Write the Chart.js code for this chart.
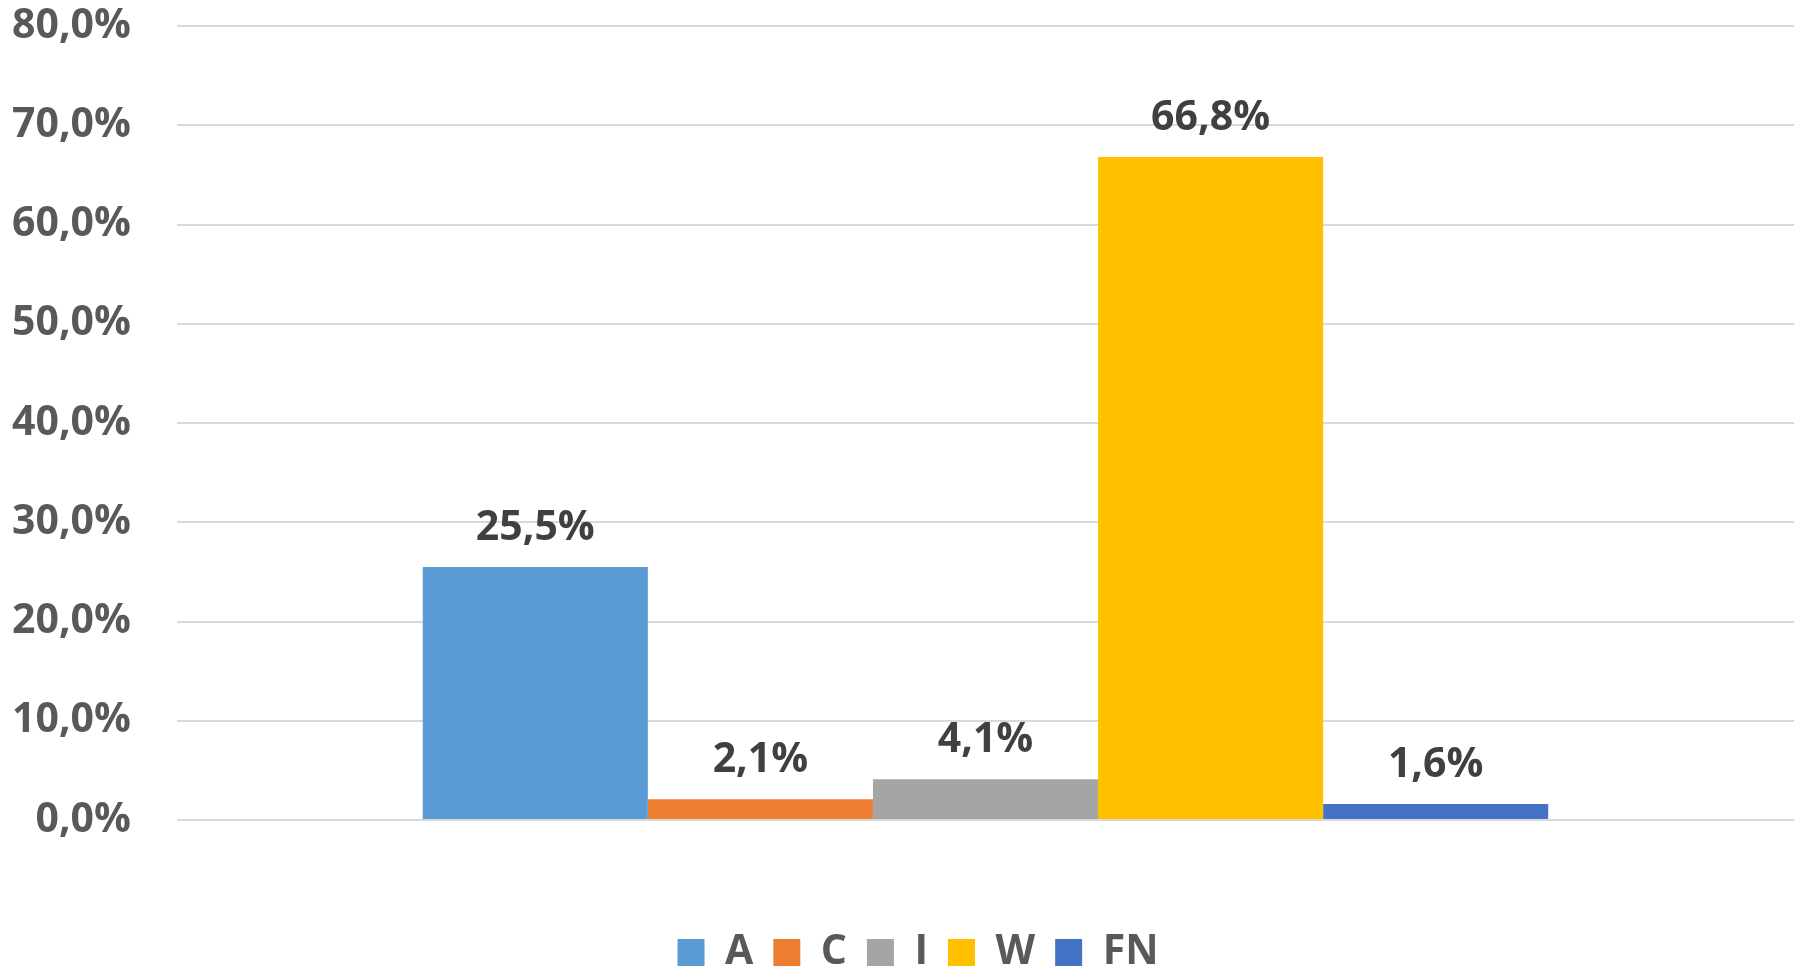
<!DOCTYPE html>
<html>
<head>
<meta charset="utf-8">
<script src="https://cdn.jsdelivr.net/npm/chart.js@4/dist/chart.umd.min.js"></script>
<style>
  html, body { margin: 0; padding: 0; background: #fff; }
  #wrap { width: 1800px; height: 970px; }
</style>
</head>
<body>
<div id="wrap"><canvas id="chart"></canvas></div>
<script>
// series shown as one group of bars
const seriesNames = ['A', 'C', 'I', 'W', 'FN'];
const seriesValues = [25.5, 2.1, 4.1, 66.8, 1.6];
const seriesColors = ['#5B9BD5', '#ED7D31', '#A5A5A5', '#FFC000', '#4472C4'];
const yTicks = [0, 10, 20, 30, 40, 50, 60, 70, 80];

const fmt = v => v.toFixed(1).replace('.', ',') + '%';
const FONT = '"Open Sans"';

// value labels above each bar
const valueLabels = {
    id: 'valueLabels',
    afterDatasetsDraw(chart) {
        const ctx = chart.ctx;
        ctx.save();
        ctx.font = 'bold 41px ' + FONT;
        ctx.fillStyle = '#404040';
        ctx.textAlign = 'center';
        ctx.textBaseline = 'middle';
        chart.data.datasets.forEach((ds, i) => {
            const bar = chart.getDatasetMeta(i).data[0];
            ctx.fillText(fmt(ds.data[0]), bar.x, bar.y - 39);
        });
        ctx.restore();
    }
};

// nudge the legend a bit to the right of the canvas centre
const legendShift = {
    id: 'legendShift',
    afterLayout(chart) {
        if (chart.legend) {
            chart.legend.left += 21;
            chart.legend.right += 21;
        }
    }
};

new Chart(document.getElementById('chart'), {
    type: 'bar',
    data: {
        labels: [''],
        datasets: seriesNames.map((name, i) => ({
            label: name,
            data: [seriesValues[i]],
            backgroundColor: seriesColors[i],
            barPercentage: 1,
            categoryPercentage: 0.696
        }))
    },
    options: {
        responsive: true,
        maintainAspectRatio: false,
        animation: false,
        layout: { padding: { top: 0, left: 0, right: 6, bottom: -13 } },
        plugins: {
            tooltip: { enabled: false },
            legend: {
                position: 'bottom',
                labels: {
                    boxWidth: 27,
                    boxHeight: 27,
                    padding: 20,
                    color: '#595959',
                    font: { family: FONT, size: 41, weight: 'bold', lineHeight: 1 }
                }
            }
        },
        scales: {
            x: {
                grid: { display: false },
                border: { display: false },
                ticks: { display: false },
                afterFit: (scale) => { scale.height = 92; }
            },
            y: {
                min: yTicks[0],
                max: yTicks[yTicks.length - 1],
                afterBuildTicks: (scale) => { scale.ticks = yTicks.map(v => ({ value: v })); },
                afterFit: (scale) => {
                    scale.width = 177;
                    // keep the tick padding from pushing the plot down
                    scale.paddingTop = 26;
                    scale.paddingBottom = 26;
                },
                border: { display: false },
                grid: { color: '#D9D9D9', lineWidth: 2, drawTicks: false },
                ticks: {
                    padding: 46,
                    color: '#595959',
                    font: { family: FONT, size: 41, weight: 'bold' },
                    callback: v => fmt(v)
                }
            }
        }
    },
    plugins: [valueLabels, legendShift]
});
</script>
</body>
</html>
